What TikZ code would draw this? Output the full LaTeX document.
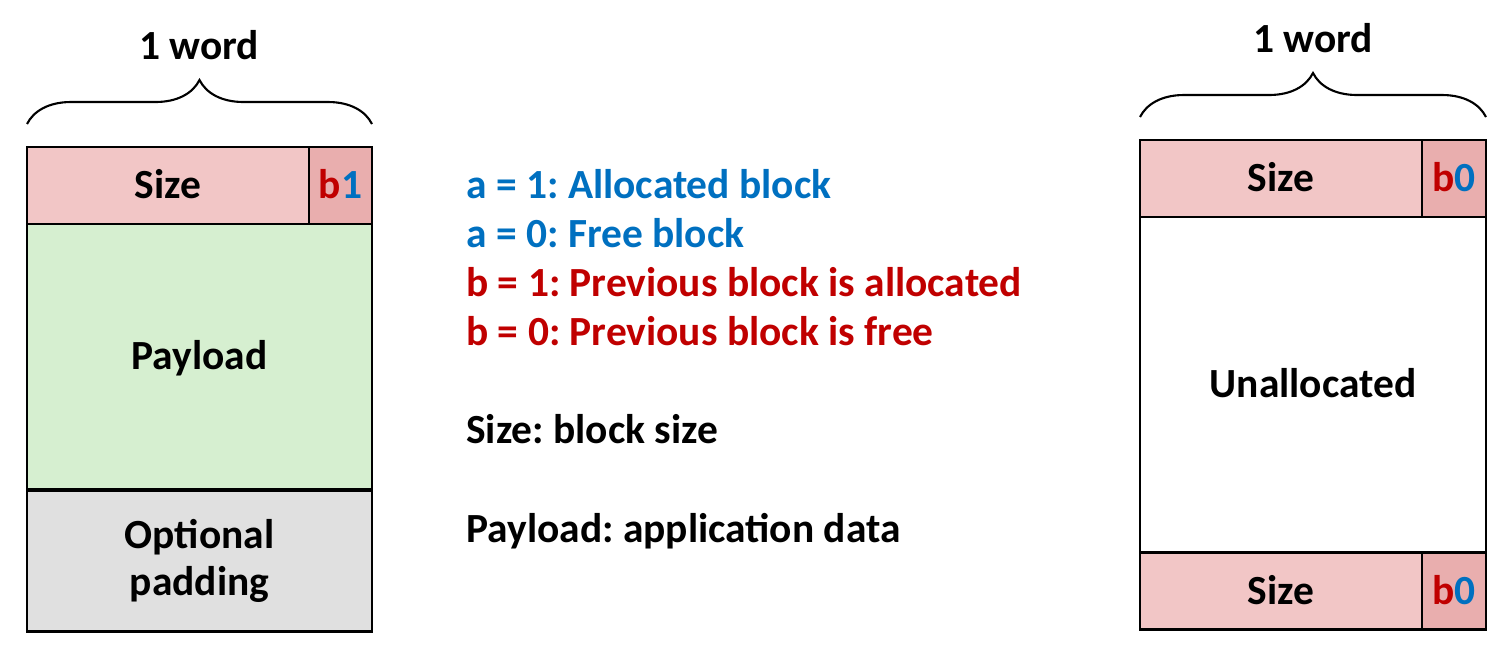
\documentclass[tikz,border=0pt]{standalone}
\usepackage{fontspec}
\setmainfont{Carlito}
\usetikzlibrary{positioning,decorations.pathreplacing}
\definecolor{sizered}{HTML}{F2C6C6}
\definecolor{flagred}{HTML}{E9AEAE}
\definecolor{payloadgreen}{HTML}{D6EFD0}
\definecolor{padgray}{HTML}{E0E0E0}
\definecolor{bitblue}{HTML}{0070C0}
\definecolor{bitred}{HTML}{C00000}
\frenchspacing

\begin{document}
\begin{tikzpicture}[x=0.02cm, y=-0.02cm, font=\fontsize{23.6}{27}\selectfont\bfseries,
  field/.style={draw, line width=1.3pt, inner sep=0pt, outer sep=0pt,
    text height=20pt, text depth=4.8pt},
  sizefield/.style={field, fill=sizered, minimum width=5.64cm, minimum height=1.54cm},
  flagfield/.style={field, fill=flagred, minimum width=1.28cm, minimum height=1.54cm},
  wordbrace/.style={decorate, decoration={brace, amplitude=0.88cm}, line width=1.2pt}]
  \useasboundingbox (0,0) rectangle (1512,665);

  % allocated block
  \node[sizefield] (sizeA) at (168,185.5) {Size};
  \node[flagfield, minimum width=1.26cm] (flagA) at (340.5,185.5) {\textcolor{bitred}{b}\textcolor{bitblue}{1}};
  \node[field, fill=payloadgreen, minimum width=6.9cm, minimum height=5.3cm] (payload) at (199.5,356.5) {Payload};
  \node[field, fill=padgray, minimum width=6.9cm, minimum height=2.82cm, align=center,
    text height=, text depth=, font=\fontsize{23.6}{26.8}\selectfont\bfseries] (padding) at (199.5,561) {Optional\\padding};
  \draw[wordbrace] ([yshift=0.46cm]sizeA.north west) -- ([yshift=0.46cm]flagA.north east);
  \node (wordA) at (199,45) {1 word};

  % free block
  \node[sizefield] (sizeF) at (1281,178.5) {Size};
  \node[flagfield] (flagF) at (1454,178.5) {\textcolor{bitred}{b}\textcolor{bitblue}{0}};
  \node[field, minimum width=6.92cm, minimum height=6.7cm] (unalloc) at (1313,384.5) {Unallocated};
  \node[sizefield] (sizeB) at (1281,591) {Size};
  \node[flagfield] (flagB) at (1454,591) {\textcolor{bitred}{b}\textcolor{bitblue}{0}};
  \draw[wordbrace] ([yshift=0.46cm]sizeF.north west) -- ([yshift=0.46cm]flagF.north east);
  \node (wordF) at (1313,38) {1 word};

  % legend
  \foreach \y/\col/\txt [count=\i] in {199/bitblue/{a = 1: Allocated block},
      248/bitblue/{a = 0: Free block},
      297/bitred/{b = 1: Previous block is allocated},
      346/bitred/{b = 0: Previous block is free},
      444/black/{Size: block size},
      542/black/{Payload: application data}}
    \node[anchor=base west, inner sep=0pt, text=\col] (leg\i) at (466,\y) {\txt};
\end{tikzpicture}
\end{document}
